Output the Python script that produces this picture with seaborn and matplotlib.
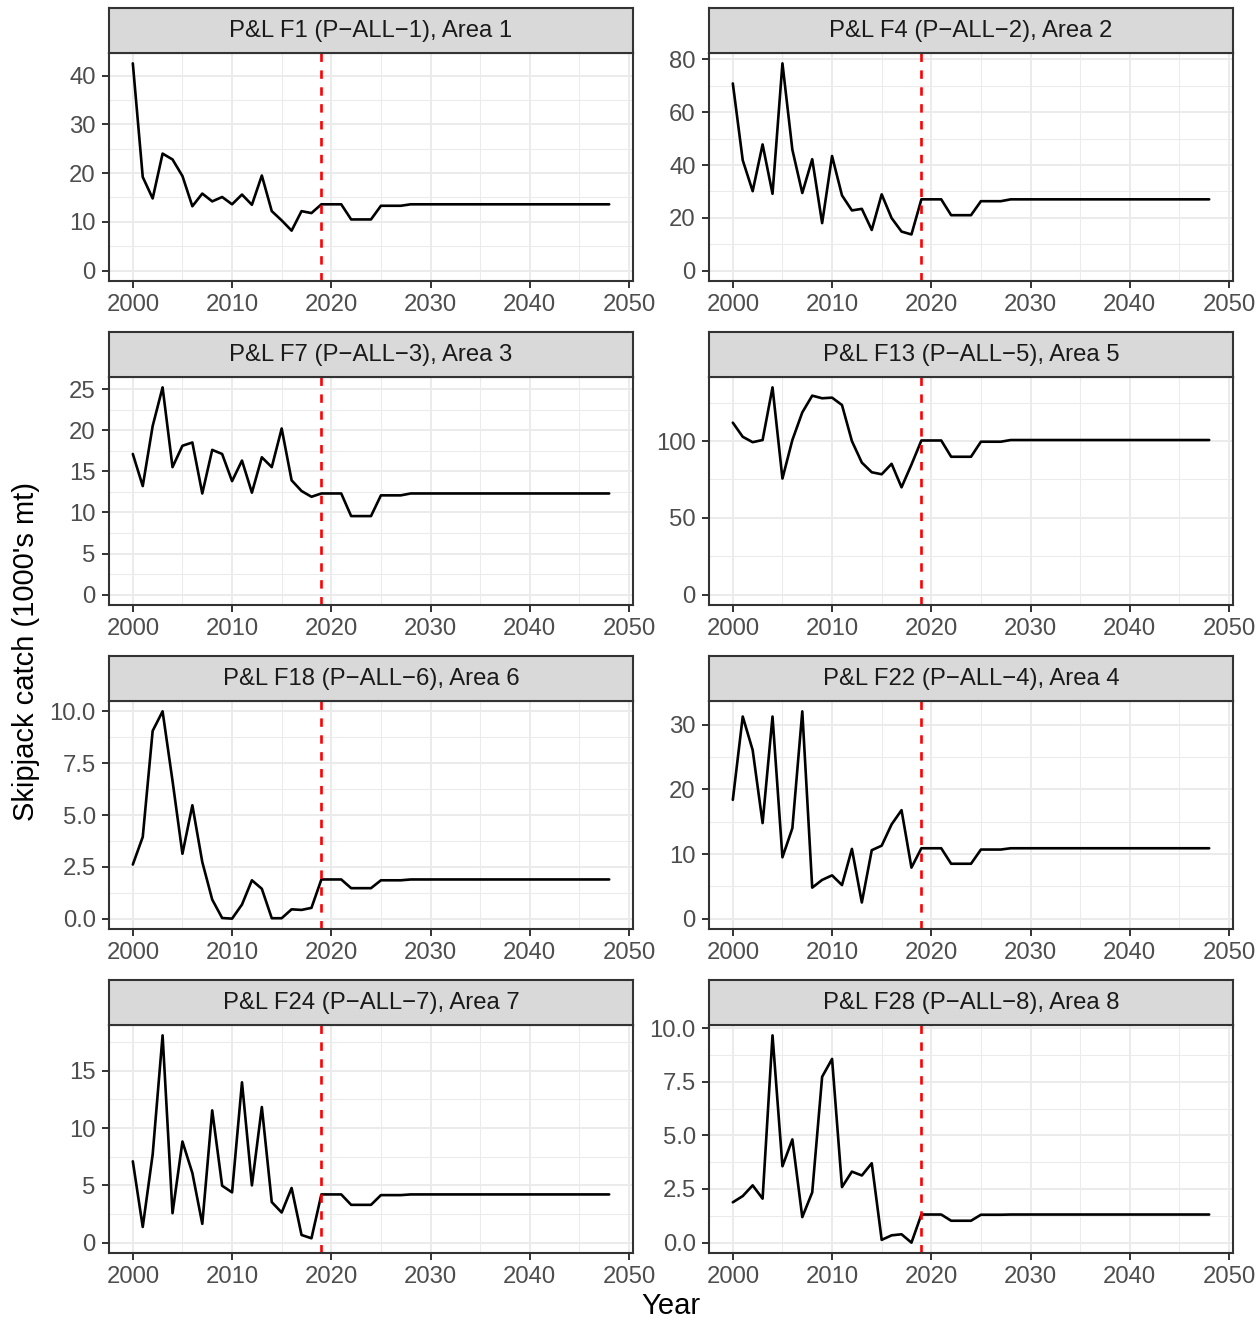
import numpy as np
import pandas as pd
import matplotlib
matplotlib.use("Agg")
import matplotlib.pyplot as plt
import seaborn as sns

# ---- data -------------------------------------------------------------
years = list(range(2000, 2049))

panel_titles = [
    "P&L F1 (P\u2212ALL\u22121), Area 1",
    "P&L F4 (P\u2212ALL\u22122), Area 2",
    "P&L F7 (P\u2212ALL\u22123), Area 3",
    "P&L F13 (P\u2212ALL\u22125), Area 5",
    "P&L F18 (P\u2212ALL\u22126), Area 6",
    "P&L F22 (P\u2212ALL\u22124), Area 4",
    "P&L F24 (P\u2212ALL\u22127), Area 7",
    "P&L F28 (P\u2212ALL\u22128), Area 8",
]

# historical catch 2000-2018 (1000's mt)
hist_f1 = [42.5, 19.2, 14.8, 24.0, 22.8, 19.4, 13.2, 15.8, 14.2, 15.1,
           13.6, 15.6, 13.5, 19.5, 12.2, 10.3, 8.2, 12.2, 11.8]
hist_f4 = [70.9, 41.8, 30.1, 47.8, 29.1, 78.5, 45.8, 29.4, 42.2, 18.0,
           43.4, 28.5, 22.8, 23.4, 15.4, 28.9, 19.9, 14.8, 13.7]
hist_f7 = [17.1, 13.2, 20.5, 25.2, 15.5, 18.1, 18.5, 12.3, 17.6, 17.1,
           13.8, 16.3, 12.4, 16.7, 15.5, 20.2, 13.9, 12.6, 11.9]
hist_f13 = [112.0, 102.8, 99.3, 100.7, 135.0, 75.6, 100.7, 118.7, 129.6, 127.9,
            128.3, 123.5, 100.0, 86.0, 79.7, 78.4, 85.2, 69.9, 84.7]
hist_f18 = [2.61, 3.94, 9.06, 10.0, 6.65, 3.13, 5.47, 2.73, 0.92, 0.03,
            0.0, 0.68, 1.85, 1.44, 0.02, 0.02, 0.45, 0.42, 0.52]
hist_f22 = [18.4, 31.3, 26.1, 14.8, 31.3, 9.5, 14.0, 32.1, 4.8, 6.0,
            6.7, 5.2, 10.8, 2.5, 10.6, 11.3, 14.6, 16.8, 7.9]
hist_f24 = [7.1, 1.37, 7.7, 18.1, 2.57, 8.83, 6.08, 1.64, 11.55, 4.97,
            4.39, 14.0, 5.0, 11.84, 3.54, 2.63, 4.77, 0.67, 0.38]
hist_f28 = [1.88, 2.17, 2.67, 2.05, 9.66, 3.56, 4.81, 1.19, 2.34, 7.73,
            8.56, 2.59, 3.31, 3.13, 3.70, 0.13, 0.34, 0.39, 0.0]

# projected catch levels: 2019-2021, 2022-2024, 2025-2027, 2028-2048
proj_f1 = [13.6, 10.5, 13.3, 13.6]
proj_f4 = [27.0, 21.0, 26.3, 27.0]
proj_f7 = [12.3, 9.55, 12.07, 12.3]
proj_f13 = [100.4, 89.8, 99.6, 100.7]
proj_f18 = [1.89, 1.47, 1.85, 1.89]
proj_f22 = [10.9, 8.5, 10.7, 10.9]
proj_f24 = [4.21, 3.3, 4.15, 4.21]
proj_f28 = [1.31, 1.02, 1.30, 1.31]
proj_lengths = [3, 3, 3, 21]

yticks_f1 = [0, 10, 20, 30, 40]
yticks_f4 = [0, 20, 40, 60, 80]
yticks_f7 = [0, 5, 10, 15, 20, 25]
yticks_f13 = [0, 50, 100]
yticks_f18 = [0.0, 2.5, 5.0, 7.5, 10.0]
yticks_f22 = [0, 10, 20, 30]
yticks_f24 = [0, 5, 10, 15]
yticks_f28 = [0.0, 2.5, 5.0, 7.5, 10.0]

xticks = [2000, 2010, 2020, 2030, 2040, 2050]
projection_start = 2019

hist_all = [hist_f1, hist_f4, hist_f7, hist_f13, hist_f18, hist_f22, hist_f24, hist_f28]
proj_all = [proj_f1, proj_f4, proj_f7, proj_f13, proj_f18, proj_f22, proj_f24, proj_f28]
yticks_all = [yticks_f1, yticks_f4, yticks_f7, yticks_f13,
              yticks_f18, yticks_f22, yticks_f24, yticks_f28]

frames = []
for title, hist, proj in zip(panel_titles, hist_all, proj_all):
    series = list(hist)
    for level, n in zip(proj, proj_lengths):
        series += [level] * n
    frames.append(pd.DataFrame({"Year": years, "Catch": series, "Fleet": title}))
df = pd.concat(frames, ignore_index=True)

# ---- styling ----------------------------------------------------------
sns.set_style("white")
plt.rcParams["font.family"] = ["Liberation Sans", "DejaVu Sans"]

W, H = 1260, 1322
fig = plt.figure(figsize=(W / 100, H / 100), dpi=100)

col_left = [109, 709]
panel_w = 524
row_top = [53, 377, 701, 1025]
panel_h = 228
strip_h = 45

dark = "#333333"
grid_major = "#EBEBEB"
label_size = 17.2

def fig_rect(x, y_top, w, h):
    return [x / W, 1 - (y_top + h) / H, w / W, h / H]

for i, title in enumerate(panel_titles):
    r, c = divmod(i, 2)
    ax = fig.add_axes(fig_rect(col_left[c], row_top[r], panel_w, panel_h))
    sub = df[df["Fleet"] == title]

    ax.set_axisbelow(True)
    sns.lineplot(data=sub, x="Year", y="Catch", ax=ax, color="black",
                 linewidth=1.9, estimator=None)
    ax.axvline(projection_start, color="#FF0000", linewidth=1.9,
               linestyle=(0, (3.2, 3.2)))

    # limits with 5% expansion, lower bound at zero
    x0, x1 = min(years), max(years)
    xpad = 0.05 * (x1 - x0)
    y1 = sub["Catch"].max()
    ypad = 0.05 * y1

    yt = yticks_all[i]
    ax.set_xticks(xticks)
    ax.set_yticks(yt)
    ax.set_xticks([x + 5 for x in xticks[:-1]], minor=True)
    step = yt[1] - yt[0]
    ax.set_yticks([v + step / 2 for v in yt], minor=True)
    if isinstance(yt[1], float):
        ax.set_yticklabels([f"{v:.1f}" for v in yt])
    else:
        ax.set_yticklabels([str(v) for v in yt])
    ax.set_xticklabels([str(v) for v in xticks])
    ax.set_xlim(x0 - xpad, x1 + xpad)
    ax.set_ylim(-ypad, y1 + ypad)

    ax.grid(which="major", color=grid_major, linewidth=1.4)
    ax.grid(which="minor", color=grid_major, linewidth=0.75)
    ax.tick_params(axis="both", which="major", direction="out", length=5,
                   width=1.4, color=dark, labelsize=label_size,
                   labelcolor="#4D4D4D", pad=4.5, bottom=True, left=True)
    ax.tick_params(axis="both", which="minor", length=0)
    for s in ax.spines.values():
        s.set_color(dark)
        s.set_linewidth(1.5)
    ax.set_xlabel("")
    ax.set_ylabel("")

    # facet strip
    sax = fig.add_axes(fig_rect(col_left[c], row_top[r] - strip_h, panel_w, strip_h))
    sax.set_facecolor("#D9D9D9")
    sax.set_xticks([])
    sax.set_yticks([])
    for s in sax.spines.values():
        s.set_color(dark)
        s.set_linewidth(1.5)
    sax.text(0.5, 0.5, title, ha="center", va="center", fontsize=label_size,
             color="#1A1A1A", transform=sax.transAxes)

fig.text(26 / W, 1 - 652 / H, "Skipjack catch (1000's mt)", rotation=90,
         ha="center", va="center", fontsize=21, color="black")
fig.text(671 / W, 1 - 1306 / H, "Year", ha="center", va="center",
         fontsize=21, color="black")

fig.savefig("out.png", dpi=100, facecolor="white")
